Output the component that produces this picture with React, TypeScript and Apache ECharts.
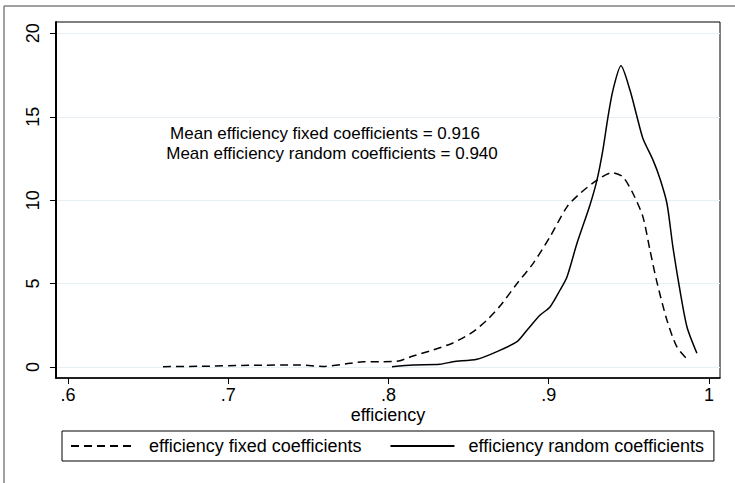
import React, { useEffect, useRef } from "react";
import * as echarts from "echarts";

const fixedX = [0.6593, 0.6824, 0.7136, 0.7448, 0.7591, 0.776, 0.7841, 0.7947, 0.8053, 0.8153, 0.8278, 0.8402, 0.8527, 0.8615, 0.8696, 0.8802, 0.8902, 0.9008, 0.9114, 0.9195, 0.9301, 0.9395, 0.9463, 0.9526, 0.9588, 0.9632, 0.9675, 0.9738, 0.98, 0.9869];
const fixedY = [0.02, 0.04, 0.1, 0.12, 0.03, 0.22, 0.32, 0.32, 0.34, 0.66, 1.02, 1.44, 2.1, 2.82, 3.65, 5.0, 6.2, 7.8, 9.6, 10.4, 11.2, 11.65, 11.4, 10.4, 9.0, 7.0, 5.1, 2.8, 1.2, 0.42];

const randomX = [0.8022, 0.8153, 0.8321, 0.8402, 0.8552, 0.8677, 0.8802, 0.8864, 0.8945, 0.9008, 0.907, 0.9114, 0.9176, 0.9257, 0.9301, 0.9338, 0.937, 0.9401, 0.9451, 0.9507, 0.9551, 0.9588, 0.9651, 0.9694, 0.9738, 0.9775, 0.9819, 0.9863, 0.9925];
const randomY = [0.02, 0.12, 0.16, 0.32, 0.46, 0.92, 1.52, 2.2, 3.1, 3.6, 4.6, 5.4, 7.4, 9.7, 11.2, 13.0, 15.0, 16.6, 18.05, 16.6, 15.0, 13.7, 12.4, 11.3, 9.8, 7.2, 4.6, 2.4, 0.82];

const xTicks = [0.6, 0.7, 0.8, 0.9, 1];
const xTickLabels = [".6", ".7", ".8", ".9", "1"];
const yTicks = [0, 5, 10, 15, 20];

const seriesNames = ["efficiency fixed coefficients", "efficiency random coefficients"];
const annotations = [
  "Mean efficiency fixed coefficients = 0.916",
  "Mean efficiency random coefficients = 0.940",
];

const FONT = '"Liberation Sans", Arial, Helvetica, sans-serif';

export default function App() {
  const ref = useRef<HTMLDivElement>(null);
  useEffect(() => {
    if (!ref.current) return;
    const chart = echarts.init(ref.current, undefined, { renderer: "svg" });
    const fixedData = fixedX.map((x, i) => [x, fixedY[i]]);
    const randomData = randomX.map((x, i) => [x, randomY[i]]);
    chart.setOption({
      animation: false,
      backgroundColor: "#fff",
      textStyle: { fontFamily: FONT },
      grid: {
        left: 56,
        right: 15,
        top: 22,
        bottom: 105,
        show: true,
        borderColor: "#000",
        borderWidth: 1,
        containLabel: false,
      },
      xAxis: {
        type: "value",
        min: 0.5925,
        max: 1.0069,
        name: "efficiency",
        nameLocation: "middle",
        nameGap: 28,
        nameMoveOverlap: false,
        nameTextStyle: { color: "#000", fontSize: 18, fontFamily: FONT },
        axisLine: { show: true, onZero: false, lineStyle: { color: "#000", width: 1.5 } },
        axisTick: { show: true, length: 6, lineStyle: { color: "#000" }, customValues: xTicks },
        axisLabel: {
          color: "#000",
          fontSize: 18,
          fontFamily: FONT,
          margin: 8,
          customValues: xTicks,
          formatter: (v: number) => {
            const i = xTicks.findIndex((t) => Math.abs(t - v) < 1e-6);
            return i >= 0 ? xTickLabels[i] : "";
          },
        },
        splitLine: { show: false },
      },
      yAxis: {
        type: "value",
        min: -0.66,
        max: 20.68,
        axisLine: { show: true, onZero: false, lineStyle: { color: "#000", width: 2 } },
        axisTick: { show: true, length: 6, lineStyle: { color: "#000" }, customValues: yTicks },
        axisLabel: {
          color: "#000",
          fontSize: 18,
          fontFamily: FONT,
          rotate: 90,
          margin: 14,
          customValues: yTicks,
        },
        splitLine: { show: true, lineStyle: { color: "#e6eff3", width: 1 } },
      },
      legend: {
        left: 62,
        top: 431,
        orient: "horizontal",
        data: seriesNames,
        itemWidth: 64,
        itemHeight: 20,
        itemGap: 28,
        padding: [6, 10, 6, 8],
        borderColor: "#000",
        borderWidth: 1,
        borderRadius: 0,
        selectedMode: false,
        itemStyle: { opacity: 0, borderWidth: 0 },
        textStyle: { color: "#000", fontSize: 18, fontFamily: FONT, padding: [0, 0, 0, 9] },
      },
      graphic: [
        {
          type: "line",
          shape: { x1: 4, y1: 6, x2: 735, y2: 6 },
          style: { stroke: "#808080", lineWidth: 1.5 },
          silent: true,
        },
        {
          type: "line",
          shape: { x1: 4, y1: 6, x2: 4, y2: 483 },
          style: { stroke: "#808080", lineWidth: 1.5 },
          silent: true,
        },
        {
          type: "text",
          x: 325,
          y: 133,
          style: {
            text: annotations[0],
            fill: "#000",
            fontSize: 17,
            fontFamily: FONT,
            align: "center",
            verticalAlign: "middle",
          },
          silent: true,
        },
        {
          type: "text",
          x: 332,
          y: 153,
          style: {
            text: annotations[1],
            fill: "#000",
            fontSize: 17,
            fontFamily: FONT,
            align: "center",
            verticalAlign: "middle",
          },
          silent: true,
        },
      ],
      series: [
        {
          name: seriesNames[0],
          type: "line",
          data: fixedData,
          showSymbol: false,
          symbol: "none",
          smooth: 0.25,
          lineStyle: { color: "#000", width: 1.5, type: [8, 5] },
          itemStyle: { color: "#000" },
        },
        {
          name: seriesNames[1],
          type: "line",
          data: randomData,
          showSymbol: false,
          symbol: "none",
          smooth: 0.25,
          lineStyle: { color: "#000", width: 1.5, type: "solid" },
          itemStyle: { color: "#000" },
        },
      ],
    });
    return () => chart.dispose();
  }, []);
  return (
    <div
      ref={ref}
      style={{ position: "fixed", left: 0, top: 0, width: 735, height: 483, background: "#fff" }}
    />
  );
}
